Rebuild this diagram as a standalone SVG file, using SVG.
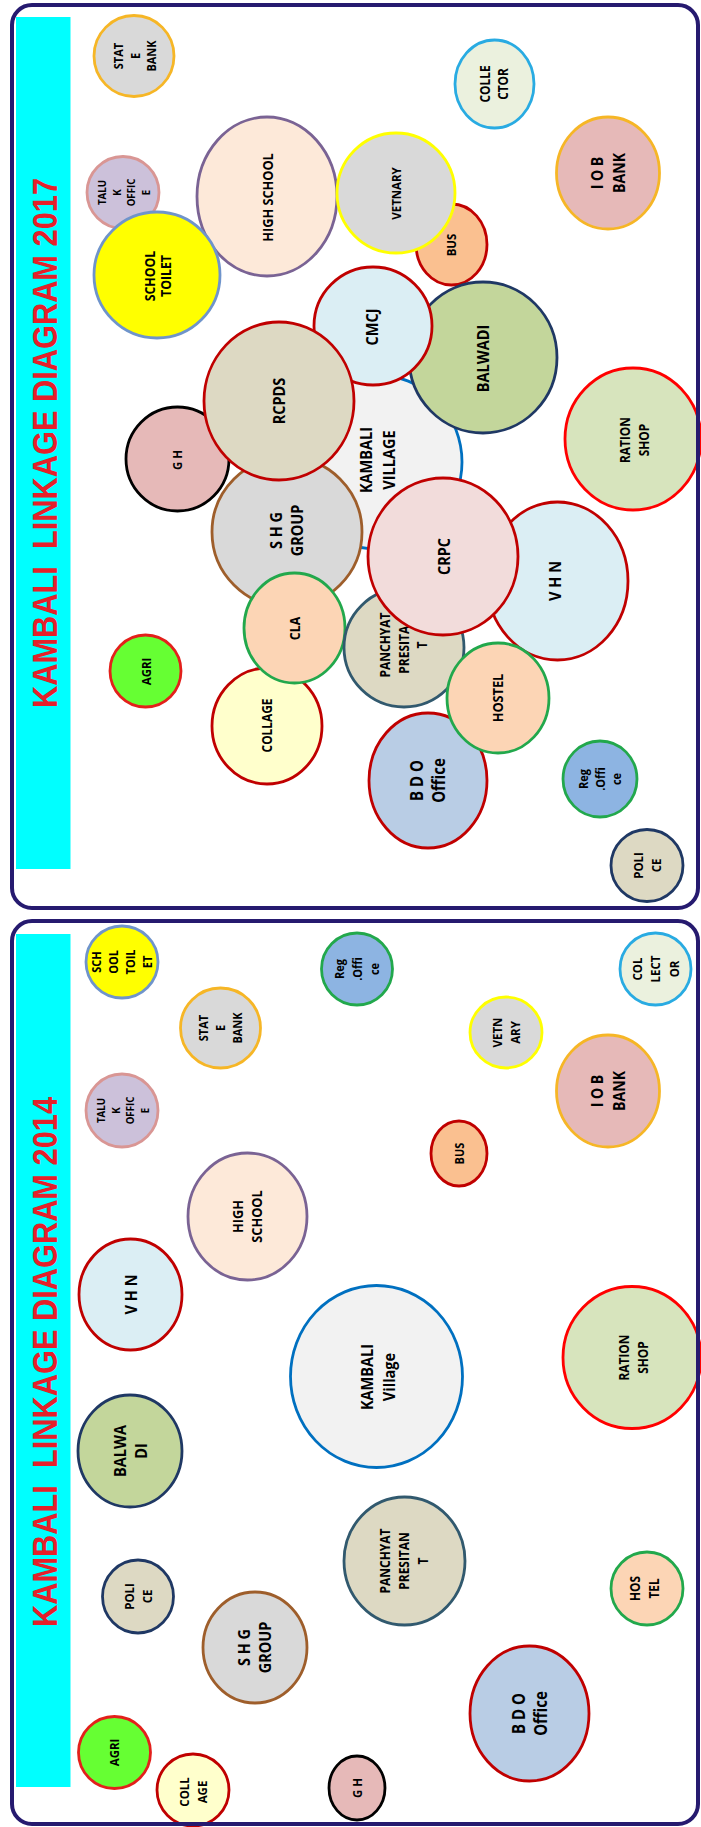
<svg xmlns="http://www.w3.org/2000/svg" width="701" height="1827" viewBox="0 0 701 1827">
<style>
.frame{fill:none;stroke:#261A6F;stroke-width:4}
.bg{fill:#fff;stroke:none}
.bar{fill:#00FFFF}
.ttl{font-family:"Liberation Sans",Arial,sans-serif;font-weight:700;fill:#E5202A;font-size:35px}
.lb{font-family:"Open Sans","Liberation Sans",sans-serif;font-weight:700;fill:#000;text-anchor:middle}
ellipse{stroke-width:2.8}
.gray{fill:#D9D9D9}
.gold{stroke:#F6B626}
.dred{stroke:#C00000}
.navy{stroke:#1F3864}
.green{stroke:#22A84C}
</style>
<rect x="0" y="0" width="701" height="1827" fill="#fff"/>
<rect class="bg" x="12" y="5" width="686" height="903" rx="20"/>
<rect class="bg" x="12" y="921" width="686" height="903" rx="20"/>
<rect class="bar" x="16" y="17" width="54.5" height="852"/>
<rect class="bar" x="16" y="934" width="54.5" height="853"/>
<text class="ttl" xml:space="preserve" text-anchor="middle" textLength="530" lengthAdjust="spacingAndGlyphs" transform="translate(57,443) rotate(-90)" x="0" y="0">KAMBALI  LINKAGE DIAGRAM 2017</text>
<text class="ttl" xml:space="preserve" text-anchor="middle" textLength="530" lengthAdjust="spacingAndGlyphs" transform="translate(57,1362) rotate(-90)" x="0" y="0">KAMBALI  LINKAGE DIAGRAM 2014</text>

<g id="panel-2017">
<g id="n17-statebank"><ellipse class="gray gold" cx="134" cy="56" rx="40" ry="40.5"/><text class="lb" font-size="12.5" transform="translate(135,56) rotate(-90) scale(.88,1)"><tspan x="0" y="-12.5">STAT</tspan><tspan x="0" y="4.5">E</tspan><tspan x="0" y="21.5">BANK</tspan></text></g>
<g id="n17-collector"><ellipse cx="494.5" cy="84" rx="39.5" ry="44" fill="#EBF1DE" stroke="#29ABE2"/><text class="lb" font-size="13.5" transform="translate(494.5,84) rotate(-90) scale(.88,1)"><tspan x="0" y="-4.14">COLLE</tspan><tspan x="0" y="13.86">CTOR</tspan></text></g>
<g id="n17-iob"><ellipse class="gold" cx="608" cy="173" rx="51.5" ry="56" fill="#E6B9B8"/><text class="lb" font-size="16" transform="translate(608,173) rotate(-90) scale(.88,1)"><tspan x="0" y="-5.24">I O B</tspan><tspan x="0" y="16.76">BANK</tspan></text></g>
<g id="n17-taluk"><ellipse cx="123" cy="192.5" rx="36" ry="36" fill="#CCC1DA" stroke="#D99694"/><text class="lb" font-size="11" transform="translate(124,192.5) rotate(-90) scale(.88,1)"><tspan x="0" y="-17.94">TALU</tspan><tspan x="0" y="-3.34">K</tspan><tspan x="0" y="11.26">OFFIC</tspan><tspan x="0" y="25.86">E</tspan></text></g>
<g id="n17-highschool"><ellipse cx="267" cy="196.5" rx="70" ry="79.5" fill="#FDE9D9" stroke="#7A6394"/><text class="lb" font-size="14.5" transform="translate(268,197.5) rotate(-90) scale(.88,1)"><tspan x="0" y="5.22">HIGH SCHOOL</tspan></text></g>
<g id="n17-schooltoilet"><ellipse cx="157" cy="275" rx="63" ry="63" fill="#FFFF00" stroke="#6F94CB"/><text class="lb" font-size="14" transform="translate(158,276) rotate(-90) scale(.88,1)"><tspan x="0" y="-3.31">SCHOOL</tspan><tspan x="0" y="13.39">TOILET</tspan></text></g>
<g id="n17-bus"><ellipse class="dred" cx="451.5" cy="244.5" rx="35.5" ry="40.5" fill="#FAC090"/><text class="lb" font-size="13" transform="translate(451,245) rotate(-90) scale(.88,1)"><tspan x="0" y="4.68">BUS</tspan></text></g>
<g id="n17-vetnary"><ellipse class="gray" cx="396" cy="193" rx="59" ry="60" stroke="#FFFF00"/><text class="lb" font-size="13" transform="translate(396.5,193.5) rotate(-90) scale(.88,1)"><tspan x="0" y="4.68">VETNARY</tspan></text></g>
<g id="n17-ration"><ellipse cx="633" cy="439" rx="68" ry="71" fill="#D7E4BD" stroke="#FF0000"/><text class="lb" font-size="13.5" transform="translate(635,440) rotate(-90) scale(.88,1)"><tspan x="0" y="-4.64">RATION</tspan><tspan x="0" y="14.36">SHOP</tspan></text></g>
<g id="n17-kambali"><ellipse cx="377" cy="462" rx="85" ry="87" fill="#F2F2F2" stroke="#0070C0"/><text class="lb" font-size="16.5" transform="translate(377.5,460) rotate(-90) scale(.88,1)"><tspan x="0" y="-5.31">KAMBALI</tspan><tspan x="0" y="17.19">VILLAGE</tspan></text></g>
<g id="n17-balwadi"><ellipse class="navy" cx="483" cy="357.5" rx="74" ry="75.5" fill="#C3D69B"/><text class="lb" font-size="16.5" transform="translate(483,358.5) rotate(-90) scale(.88,1)"><tspan x="0" y="5.94">BALWADI</tspan></text></g>
<g id="n17-cmcj"><ellipse class="dred" cx="373" cy="326" rx="59" ry="59" fill="#DBEEF4"/><text class="lb" font-size="16.5" transform="translate(372.5,327) rotate(-90) scale(.88,1)"><tspan x="0" y="5.94">CMCJ</tspan></text></g>
<g id="n17-shg"><ellipse class="gray" cx="287" cy="532" rx="75" ry="75" stroke="#9E5E2B"/><text class="lb" font-size="16.5" transform="translate(287,530.5) rotate(-90) scale(.88,1)"><tspan x="0" y="-4.56">S H G</tspan><tspan x="0" y="16.44">GROUP</tspan></text></g>
<g id="n17-gh"><ellipse cx="177.5" cy="459" rx="51.5" ry="52" fill="#E6B9B8" stroke="#000"/><text class="lb" font-size="13" transform="translate(177.5,460) rotate(-90) scale(.88,1)"><tspan x="0" y="4.68">G H</tspan></text></g>
<g id="n17-rcpds"><ellipse class="dred" cx="279" cy="401" rx="75" ry="79" fill="#DDD9C3"/><text class="lb" font-size="16.5" transform="translate(279,401) rotate(-90) scale(.88,1)"><tspan x="0" y="5.94">RCPDS</tspan></text></g>
<g id="n17-collage"><ellipse class="dred" cx="267" cy="726" rx="55" ry="58" fill="#FFFFCC"/><text class="lb" font-size="13.5" transform="translate(267,725.5) rotate(-90) scale(.88,1)"><tspan x="0" y="4.86">COLLAGE</tspan></text></g>
<g id="n17-cla"><ellipse class="green" cx="294.5" cy="628" rx="50.5" ry="55" fill="#FCD5B5"/><text class="lb" font-size="14" transform="translate(295,628.5) rotate(-90) scale(.88,1)"><tspan x="0" y="5.04">CLA</tspan></text></g>
<g id="n17-agri"><ellipse cx="145.5" cy="671" rx="35.5" ry="36" fill="#66FF33" stroke="#E3201B"/><text class="lb" font-size="13" transform="translate(146,671.5) rotate(-90) scale(.88,1)"><tspan x="0" y="4.68">AGRI</tspan></text></g>
<g id="n17-panchyat"><ellipse cx="404" cy="647.5" rx="60" ry="59.5" fill="#DDD9C3" stroke="#31596E"/><text class="lb" font-size="13.6" transform="translate(404,645) rotate(-90) scale(.88,1)"><tspan x="0" y="-13.6">PANCHYAT</tspan><tspan x="-5.4" y="4.9">PRESITA</tspan><tspan x="0" y="23.4">T</tspan></text></g>
<g id="n17-vhn"><ellipse class="dred" cx="557.5" cy="581" rx="70.5" ry="79" fill="#DBEEF4"/><text class="lb" font-size="16.5" transform="translate(555,581) rotate(-90) scale(.88,1)"><tspan x="0" y="5.94">V H N</tspan></text></g>
<g id="n17-crpc"><ellipse class="dred" cx="443" cy="556.5" rx="75" ry="78.5" fill="#F2DCDB"/><text class="lb" font-size="16.5" transform="translate(444,556.5) rotate(-90) scale(.88,1)"><tspan x="0" y="5.94">CRPC</tspan></text></g>
<g id="n17-bdo"><ellipse class="dred" cx="428" cy="780.5" rx="59" ry="67.5" fill="#B9CDE5"/><text class="lb" font-size="17" transform="translate(428,780.5) rotate(-90) scale(.88,1)"><tspan x="0" y="-4.63">B D O</tspan><tspan x="0" y="16.87">Office</tspan></text></g>
<g id="n17-hostel"><ellipse class="green" cx="498" cy="698" rx="51" ry="55" fill="#FCD5B5"/><text class="lb" font-size="14.5" transform="translate(498,698) rotate(-90) scale(.88,1)"><tspan x="0" y="5.22">HOSTEL</tspan></text></g>
<g id="n17-reg"><ellipse class="green" cx="600" cy="779" rx="37" ry="38" fill="#8DB4E2"/><text class="lb" font-size="12.5" transform="translate(600,779) rotate(-90) scale(.88,1)"><tspan x="0" y="-12.5">Reg</tspan><tspan x="0" y="4.5">.Offi</tspan><tspan x="0" y="21.5">ce</tspan></text></g>
<g id="n17-police"><ellipse class="navy" cx="647" cy="865.5" rx="36" ry="36" fill="#DDD9C3"/><text class="lb" font-size="13" transform="translate(647,865.5) rotate(-90) scale(.88,1)"><tspan x="0" y="-4.32">POLI</tspan><tspan x="0" y="13.68">CE</tspan></text></g>
</g>

<g id="panel-2014">
<g id="n14-schooltoilet"><ellipse cx="122" cy="962" rx="36" ry="36" fill="#FFFF00" stroke="#6F94CB"/><text class="lb" font-size="12.5" transform="translate(122,962) rotate(-90) scale(.88,1)"><tspan x="0" y="-21">SCH</tspan><tspan x="0" y="-4">OOL</tspan><tspan x="0" y="13">TOIL</tspan><tspan x="0" y="30">ET</tspan></text></g>
<g id="n14-statebank"><ellipse class="gray gold" cx="220.5" cy="1028" rx="40" ry="40"/><text class="lb" font-size="12.5" transform="translate(220.5,1028) rotate(-90) scale(.88,1)"><tspan x="0" y="-12.5">STAT</tspan><tspan x="0" y="4.5">E</tspan><tspan x="0" y="21.5">BANK</tspan></text></g>
<g id="n14-taluk"><ellipse cx="122" cy="1110.5" rx="36" ry="36.5" fill="#CCC1DA" stroke="#D99694"/><text class="lb" font-size="11" transform="translate(123,1110.5) rotate(-90) scale(.88,1)"><tspan x="0" y="-17.94">TALU</tspan><tspan x="0" y="-3.34">K</tspan><tspan x="0" y="11.26">OFFIC</tspan><tspan x="0" y="25.86">E</tspan></text></g>
<g id="n14-reg"><ellipse class="green" cx="357" cy="969" rx="35.5" ry="36" fill="#8DB4E2"/><text class="lb" font-size="12.5" transform="translate(357,969) rotate(-90) scale(.88,1)"><tspan x="0" y="-13">Reg</tspan><tspan x="0" y="4.5">.Offi</tspan><tspan x="0" y="22">ce</tspan></text></g>
<g id="n14-collector"><ellipse cx="655.5" cy="969" rx="35.5" ry="36" fill="#EBF1DE" stroke="#29ABE2"/><text class="lb" font-size="13" transform="translate(655.5,969) rotate(-90) scale(.88,1)"><tspan x="0" y="-13.82">COL</tspan><tspan x="0" y="4.68">LECT</tspan><tspan x="0" y="23.18">OR</tspan></text></g>
<g id="n14-vetnary"><ellipse class="gray" cx="506" cy="1032.5" rx="36" ry="35.5" stroke="#FFFF00"/><text class="lb" font-size="13" transform="translate(506,1032.5) rotate(-90) scale(.88,1)"><tspan x="0" y="-4.32">VETN</tspan><tspan x="0" y="13.68">ARY</tspan></text></g>
<g id="n14-iob"><ellipse class="gold" cx="608" cy="1091" rx="51.5" ry="56" fill="#E6B9B8"/><text class="lb" font-size="16" transform="translate(608,1091) rotate(-90) scale(.88,1)"><tspan x="0" y="-5.24">I O B</tspan><tspan x="0" y="16.76">BANK</tspan></text></g>
<g id="n14-bus"><ellipse class="dred" cx="459" cy="1153.5" rx="28" ry="32.5" fill="#FAC090"/><text class="lb" font-size="12.5" transform="translate(459,1153.5) rotate(-90) scale(.88,1)"><tspan x="0" y="4.5">BUS</tspan></text></g>
<g id="n14-highschool"><ellipse cx="247.5" cy="1216.5" rx="59.5" ry="63.5" fill="#FDE9D9" stroke="#7A6394"/><text class="lb" font-size="14.5" transform="translate(247.5,1216.5) rotate(-90) scale(.88,1)"><tspan x="0" y="-4.53">HIGH</tspan><tspan x="0" y="14.97">SCHOOL</tspan></text></g>
<g id="n14-vhn"><ellipse class="dred" cx="130.5" cy="1294.5" rx="51.5" ry="55.5" fill="#DBEEF4"/><text class="lb" font-size="16.5" transform="translate(131,1294.5) rotate(-90) scale(.88,1)"><tspan x="0" y="5.94">V H N</tspan></text></g>
<g id="n14-kambali"><ellipse cx="376.5" cy="1376.5" rx="86" ry="91" fill="#F2F2F2" stroke="#0070C0"/><text class="lb" font-size="16.5" transform="translate(378,1377) rotate(-90) scale(.88,1)"><tspan x="0" y="-5.06">KAMBALI</tspan><tspan x="0" y="16.94">Village</tspan></text></g>
<g id="n14-ration"><ellipse cx="632" cy="1357.5" rx="69" ry="71" fill="#D7E4BD" stroke="#FF0000"/><text class="lb" font-size="13.5" transform="translate(634,1357.5) rotate(-90) scale(.88,1)"><tspan x="0" y="-4.64">RATION</tspan><tspan x="0" y="14.36">SHOP</tspan></text></g>
<g id="n14-balwadi"><ellipse class="navy" cx="130" cy="1451" rx="52" ry="56" fill="#C3D69B"/><text class="lb" font-size="16.5" transform="translate(130.5,1451) rotate(-90) scale(.88,1)"><tspan x="0" y="-4.31">BALWA</tspan><tspan x="0" y="16.19">DI</tspan></text></g>
<g id="n14-police"><ellipse class="navy" cx="138" cy="1596.5" rx="35.5" ry="36.5" fill="#DDD9C3"/><text class="lb" font-size="13" transform="translate(138,1596.5) rotate(-90) scale(.88,1)"><tspan x="0" y="-4.32">POLI</tspan><tspan x="0" y="13.68">CE</tspan></text></g>
<g id="n14-panchyat"><ellipse cx="404.5" cy="1561" rx="60.5" ry="64" fill="#DDD9C3" stroke="#31596E"/><text class="lb" font-size="13.6" transform="translate(404.5,1561) rotate(-90) scale(.88,1)"><tspan x="0" y="-14.1">PANCHYAT</tspan><tspan x="0" y="4.9">PRESITAN</tspan><tspan x="0" y="23.9">T</tspan></text></g>
<g id="n14-hostel"><ellipse class="green" cx="647" cy="1588.5" rx="36" ry="36.5" fill="#FCD5B5"/><text class="lb" font-size="13.5" transform="translate(645,1588.5) rotate(-90) scale(.88,1)"><tspan x="0" y="-4.64">HOS</tspan><tspan x="0" y="14.36">TEL</tspan></text></g>
<g id="n14-shg"><ellipse class="gray" cx="255" cy="1647.5" rx="52" ry="55.5" stroke="#9E5E2B"/><text class="lb" font-size="16.5" transform="translate(255,1647.5) rotate(-90) scale(.88,1)"><tspan x="0" y="-4.56">S H G</tspan><tspan x="0" y="16.44">GROUP</tspan></text></g>
<g id="n14-agri"><ellipse cx="114.5" cy="1752.5" rx="36" ry="36" fill="#66FF33" stroke="#E3201B"/><text class="lb" font-size="13" transform="translate(114.5,1752.5) rotate(-90) scale(.88,1)"><tspan x="0" y="4.68">AGRI</tspan></text></g>
<g id="n14-collage"><ellipse class="dred" cx="193" cy="1790" rx="36" ry="36" fill="#FFFFCC"/><text class="lb" font-size="13" transform="translate(193.5,1792) rotate(-90) scale(.88,1)"><tspan x="0" y="-4.32">COLL</tspan><tspan x="0" y="13.68">AGE</tspan></text></g>
<g id="n14-gh"><ellipse cx="357" cy="1788" rx="28" ry="32" fill="#E6B9B8" stroke="#000"/><text class="lb" font-size="13" transform="translate(357,1788) rotate(-90) scale(.88,1)"><tspan x="0" y="4.68">G H</tspan></text></g>
<g id="n14-bdo"><ellipse class="dred" cx="529.5" cy="1713.5" rx="59.5" ry="67.5" fill="#B9CDE5"/><text class="lb" font-size="17" transform="translate(530,1713.5) rotate(-90) scale(.88,1)"><tspan x="0" y="-4.63">B D O</tspan><tspan x="0" y="16.87">Office</tspan></text></g>
</g>

<g id="connectors"></g>
<rect class="frame" x="12" y="5" width="686" height="903" rx="20"/>
<rect class="frame" x="12" y="921" width="686" height="903" rx="20"/>
</svg>
